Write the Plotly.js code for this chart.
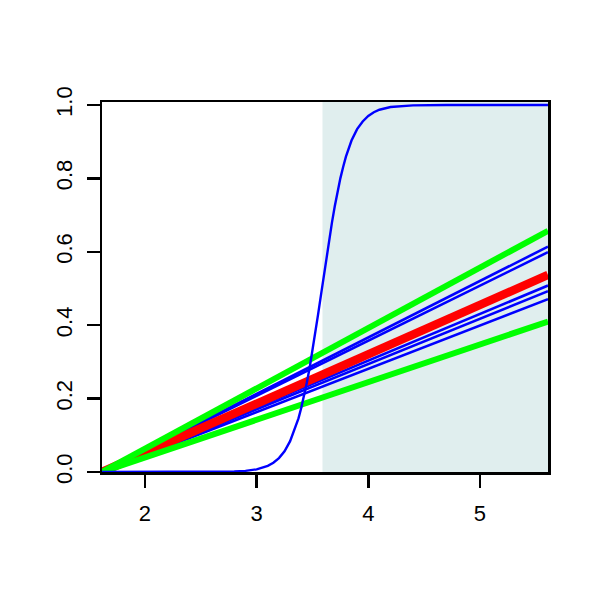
<!DOCTYPE html>
<html>
<head>
<meta charset="utf-8">
<script src="https://cdn.plot.ly/plotly-3.0.1.min.js"></script>
<style>html,body{margin:0;padding:0;background:#fff;}#chart{width:600px;height:600px;}</style>
</head>
<body>
<div id="chart"></div>
<script>
// Straight lines: start and end x
const lineX = [1.615, 5.61];
const greenHigh = [0, 0.657];
const greenLow = [0, 0.41];
const redLine = [0, 0.537];
const blueLines = [
  [0, 0.614],
  [0, 0.599],
  [0, 0.508],
  [0, 0.4925],
  [0, 0.471]
];
// Sigmoid curve
const sigX = [1.615, 2.5, 2.8, 2.9, 3.0, 3.1, 3.15, 3.2, 3.25, 3.3, 3.35, 3.375, 3.4, 3.425, 3.45, 3.475, 3.5, 3.525, 3.55, 3.575, 3.6, 3.625, 3.65, 3.675, 3.7, 3.725, 3.75, 3.775, 3.8, 3.85, 3.9, 3.95, 4.0, 4.05, 4.1, 4.2, 4.3, 4.4, 4.7, 5.0, 5.61];
const sigY = [0, 0.0001, 0.0014, 0.0032, 0.0073, 0.0168, 0.0252, 0.038, 0.0566, 0.084, 0.122, 0.146, 0.175, 0.207, 0.244, 0.284, 0.329, 0.377, 0.428, 0.479, 0.531, 0.583, 0.633, 0.680, 0.724, 0.764, 0.80, 0.831, 0.859, 0.903, 0.934, 0.955, 0.970, 0.980, 0.987, 0.9943, 0.9975, 0.9989, 0.9999, 1, 1];
// Shaded region
const shadeX = [3.59, 5.61];
const xTicks = [2, 3, 4, 5];
const yTicks = [0, 0.2, 0.4, 0.6, 0.8, 1.0];
const yTickText = ["0.0", "0.2", "0.4", "0.6", "0.8", "1.0"];

const traces = [];
blueLines.forEach(b => traces.push({x: lineX, y: b, mode: 'lines', line: {color: '#0000FF', width: 2.6}, hoverinfo: 'skip'}));
traces.push({x: lineX, y: redLine, mode: 'lines', line: {color: '#FF0000', width: 8.5}});
traces.push({x: lineX, y: greenHigh, mode: 'lines', line: {color: '#00FF00', width: 6}});
traces.push({x: lineX, y: greenLow, mode: 'lines', line: {color: '#00FF00', width: 6}});
traces.push({x: sigX, y: sigY, mode: 'lines', line: {color: '#0000FF', width: 2.4}});

const font = {family: 'Liberation Sans, Arial, sans-serif', size: 22, color: '#000'};
const layout = {
  width: 600, height: 600,
  margin: {l: 102, r: 52, t: 102, b: 128, pad: 0},
  showlegend: false,
  paper_bgcolor: '#fff', plot_bgcolor: '#fff',
  font: font,
  xaxis: {range: [1.615, 5.61], tickvals: xTicks, ticktext: xTicks.map(String), ticks: 'outside', ticklen: 13, tickwidth: 2.5, tickcolor: '#000',
    showline: true, linewidth: 2.5, linecolor: '#000', mirror: true, showgrid: false, zeroline: false, tickfont: font, ticklabelstandoff: 7},
  yaxis: {range: [0, 1.008], tickvals: yTicks, ticktext: yTickText, ticks: 'outside', ticklen: 13, tickwidth: 2.5, tickcolor: '#000', tickangle: -90,
    showline: true, linewidth: 2.5, linecolor: '#000', mirror: true, showgrid: false, zeroline: false, tickfont: font, ticklabelstandoff: 6},
  shapes: [{type: 'rect', xref: 'x', yref: 'paper', x0: shadeX[0], x1: shadeX[1], y0: 0, y1: 1, fillcolor: '#E0EEEE', line: {width: 0}, layer: 'below'}]
};
Plotly.newPlot('chart', traces, layout, {staticPlot: true, displayModeBar: false});
</script>
</body>
</html>
